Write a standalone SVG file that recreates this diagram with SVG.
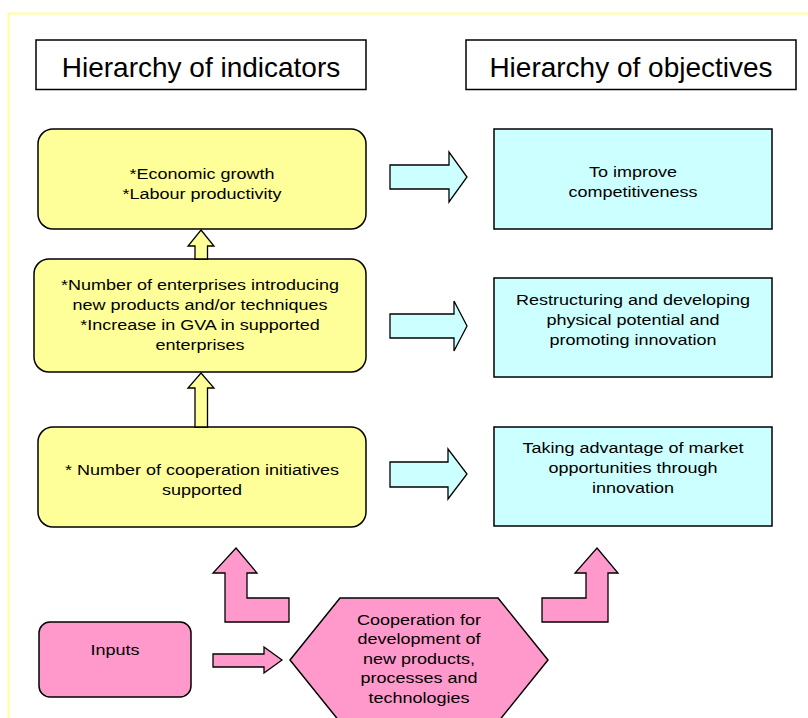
<svg xmlns="http://www.w3.org/2000/svg" width="808" height="718" viewBox="0 0 808 718">
<style>
text{font-family:"Liberation Sans",Arial,sans-serif;fill:#000;text-anchor:middle}
.hd{font-size:28px}
.t{font-size:15px}
.box{stroke:#000;stroke-width:1.5}
.yel{fill:#FFFF99}
.cyn{fill:#CCFFFF}
.pnk{fill:#FF99CC}
.arr{stroke:#000;stroke-width:1.3;stroke-linejoin:miter}
</style>
<rect width="808" height="718" fill="#fff"/>
<rect x="8.5" y="13.5" width="820" height="720" fill="none" stroke="#FFFF99" stroke-width="2"/>

<g id="hdr-indicators">
<rect class="box" x="36" y="40" width="330" height="49.5" fill="#fff"/>
<text class="hd" x="201" y="77">Hierarchy of indicators</text>
</g>
<g id="hdr-objectives">
<rect class="box" x="466" y="40" width="330" height="49.5" fill="#fff"/>
<text class="hd" x="631" y="77">Hierarchy of objectives</text>
</g>

<g id="ind-1">
<rect class="box yel" x="38" y="129" width="328" height="100" rx="15"/>
<g transform="translate(202,0) scale(1.2,1)">
<text class="t" x="0" y="179">*Economic growth</text>
<text class="t" x="0" y="199.5">*Labour productivity</text>
</g>
</g>
<g id="ind-2">
<rect class="box yel" x="34" y="259" width="332" height="113" rx="15"/>
<g transform="translate(200,0) scale(1.2,1)">
<text class="t" x="0" y="290">*Number of enterprises introducing</text>
<text class="t" x="0" y="310">new products and/or techniques</text>
<text class="t" x="0" y="330">*Increase in GVA in supported</text>
<text class="t" x="0" y="350">enterprises</text>
</g>
</g>
<g id="ind-3">
<rect class="box yel" x="38" y="427" width="328" height="100" rx="15"/>
<g transform="translate(202,0) scale(1.2,1)">
<text class="t" x="0" y="475">* Number of cooperation initiatives</text>
<text class="t" x="0" y="495.5">supported</text>
</g>
</g>

<g id="obj-1">
<rect class="box cyn" x="494" y="129" width="278" height="100"/>
<g transform="translate(633,0) scale(1.2,1)">
<text class="t" x="0" y="177">To improve</text>
<text class="t" x="0" y="197">competitiveness</text>
</g>
</g>
<g id="obj-2">
<rect class="box cyn" x="494" y="278" width="278" height="99"/>
<g transform="translate(633,0) scale(1.2,1)">
<text class="t" x="0" y="305">Restructuring and developing</text>
<text class="t" x="0" y="325">physical potential and</text>
<text class="t" x="0" y="345">promoting innovation</text>
</g>
</g>
<g id="obj-3">
<rect class="box cyn" x="494" y="427" width="278" height="99"/>
<g transform="translate(633,0) scale(1.2,1)">
<text class="t" x="0" y="453">Taking advantage of market</text>
<text class="t" x="0" y="473">opportunities through</text>
<text class="t" x="0" y="493">innovation</text>
</g>
</g>

<g id="inputs">
<rect class="box pnk" x="39" y="622" width="152" height="75" rx="11"/>
<g transform="translate(115,0) scale(1.2,1)">
<text class="t" x="0" y="655">Inputs</text>
</g>
</g>

<g id="cooperation">
<polygon class="box pnk" points="290,660 340,598 498,598 548,660 498,722 340,722"/>
<g transform="translate(419,0) scale(1.2,1)">
<text class="t" x="0" y="625">Cooperation for</text>
<text class="t" x="0" y="644.5">development of</text>
<text class="t" x="0" y="664">new products,</text>
<text class="t" x="0" y="683.5">processes and</text>
<text class="t" x="0" y="703">technologies</text>
</g>
</g>

<g id="connectors">
<polygon class="arr yel" points="201,230 214,246 207.5,246 207.5,259 195,259 195,246 188,246"/>
<polygon class="arr yel" points="201,373 214,388 207.5,388 207.5,427 195,427 195,388 188,388"/>
<polygon class="arr cyn" points="390,165 449,165 449,152 467,177 449,202 449,189 390,189"/>
<polygon class="arr cyn" points="390,314 454,314 454,301 467,326 454,351 454,338 390,338"/>
<polygon class="arr cyn" points="390,462 448,462 448,449 467,474 448,499 448,487 390,487"/>
<polygon class="arr pnk" points="236,548 257,573 247,573 247,598 289,598 289,622 225,622 225,573 213,573"/>
<polygon class="arr pnk" points="597,548 618,573 608,573 608,622 542,622 542,598 586,598 586,573 575,573"/>
<polygon class="arr pnk" points="213,654 264,654 264,647 282,660 264,673 264,667 213,667"/>
</g>
</svg>
